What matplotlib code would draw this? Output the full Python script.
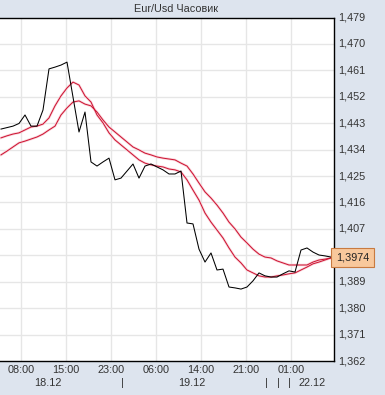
import matplotlib
matplotlib.use("Agg")
import matplotlib.pyplot as plt
import numpy as np

# ---- data (hourly bars) ----
price = [1.4410, 1.4415, 1.4420, 1.4429, 1.4458, 1.4420, 1.4420, 1.4475, 1.4615, 1.4621,
         1.4628, 1.4638, 1.4519, 1.4400, 1.4468, 1.4298, 1.4284, 1.4298, 1.4311, 1.4237,
         1.4243, 1.4267, 1.4291, 1.4243, 1.4284, 1.4291, 1.4281, 1.4271, 1.4257, 1.4257,
         1.4267, 1.4090, 1.4087, 1.4001, 1.3957, 1.3988, 1.3930, 1.3933, 1.3872, 1.3869,
         1.3865, 1.3872, 1.3893, 1.3920, 1.3910, 1.3906, 1.3906, 1.3917, 1.3927, 1.3923,
         1.3998, 1.4005, 1.3991, 1.3981, 1.3978, 1.3974]
ma_fast = [1.4380, 1.4387, 1.4393, 1.4397, 1.4407, 1.4417, 1.4420, 1.4427, 1.4448, 1.4489,
           1.4523, 1.4550, 1.4570, 1.4560, 1.4523, 1.4502, 1.4458, 1.4431, 1.4397, 1.4373,
           1.4356, 1.4339, 1.4322, 1.4305, 1.4294, 1.4288, 1.4284, 1.4281, 1.4274, 1.4271,
           1.4264, 1.4237, 1.4202, 1.4168, 1.4124, 1.4093, 1.4066, 1.4039, 1.4005, 1.3974,
           1.3954, 1.3930, 1.3920, 1.3910, 1.3906, 1.3906, 1.3910, 1.3913, 1.3917, 1.3920,
           1.3930, 1.3940, 1.3951, 1.3957, 1.3964, 1.3971]
ma_slow = [1.4322, 1.4335, 1.4349, 1.4363, 1.4369, 1.4376, 1.4383, 1.4393, 1.4407, 1.4420,
           1.4458, 1.4482, 1.4502, 1.4506, 1.4495, 1.4489, 1.4468, 1.4441, 1.4417, 1.4400,
           1.4383, 1.4366, 1.4349, 1.4339, 1.4328, 1.4322, 1.4315, 1.4311, 1.4308, 1.4305,
           1.4294, 1.4284, 1.4257, 1.4226, 1.4196, 1.4175, 1.4151, 1.4124, 1.4093, 1.4070,
           1.4042, 1.4022, 1.4001, 1.3984, 1.3974, 1.3971, 1.3961, 1.3954, 1.3947, 1.3947,
           1.3947, 1.3947, 1.3957, 1.3964, 1.3967, 1.3971]
y_ticks = [1.362, 1.371, 1.380, 1.389, 1.398, 1.407, 1.416, 1.425, 1.434,
           1.443, 1.452, 1.461, 1.470, 1.479]
time_labels = ["08:00", "15:00", "23:00", "06:00", "14:00", "21:00", "01:00"]
time_pos = [3.33, 10.83, 18.33, 25.83, 33.33, 40.83, 48.33]
date_labels = ["18.12", "|", "19.12", "|", "|", "|", "22.12"]
date_pos = [7.83, 20.17, 31.83, 44.17, 46.17, 48.0, 51.83]
last_price = 1.3974
title = "Eur/Usd Часовик"

BG = "#dde4ee"
plt.rcParams['font.family'] = ['Liberation Sans', 'DejaVu Sans']

fig = plt.figure(figsize=(3.85, 3.95), dpi=100, facecolor=BG)
ax = fig.add_axes([0.0, 1 - 361 / 395, 334 / 385, (361 - 17.5) / 395])
ax.set_facecolor("white")

x = np.arange(len(price))
ax.set_xlim(-1 / 6, 333 / 6)
ax.set_ylim(y_ticks[0], y_ticks[-1])

# grid
for yt in y_ticks[1:-1]:
    ax.axhline(yt, color="#e6e6e6", lw=1.0, zorder=0)
for xt in time_pos:
    ax.axvline(xt, color="#e6e6e6", lw=1.0, zorder=0)

# moving averages with soft halo
for ma in (ma_slow, ma_fast):
    ax.plot(x, ma, color="#f9d2d8", lw=1.8, zorder=2, solid_joinstyle="round")
    ax.plot(x, ma, color="#cc1030", lw=0.7, zorder=3)
ax.plot(x, price, color="black", lw=0.75, zorder=4)

for s in ["top", "right", "bottom"]:
    ax.spines[s].set_color("black")
    ax.spines[s].set_linewidth(1.0)
ax.spines["left"].set_visible(False)

ax.set_xticks([])
ax.set_yticks([])

yr = y_ticks[-1] - y_ticks[0]
# y labels on right (the one under the price tag is hidden by it)
for yt in y_ticks:
    if abs(yt - last_price) < 0.004:
        continue
    ax.text(1.012, (yt - y_ticks[0]) / yr,
            f"{yt:.3f}".replace(".", ","), transform=ax.transAxes,
            ha="left", va="center", fontsize=7.8, color="#333333")

# current price tag
ax.text(1.006, (last_price - y_ticks[0]) / yr,
        f"{last_price:.4f}".replace(".", ","), transform=ax.transAxes,
        ha="left", va="center", fontsize=7.8, color="#222222", zorder=10,
        bbox=dict(boxstyle="square,pad=0.42", fc="#f8c89c", ec="#c87a40", lw=0.8))

# x labels
for lab, p in zip(time_labels, time_pos):
    ax.text(p, -0.026, lab, transform=ax.get_xaxis_transform(), ha="center",
            va="center", fontsize=7.8, color="#333333")
for lab, p in zip(date_labels, date_pos):
    ax.text(p, -0.064, lab, transform=ax.get_xaxis_transform(), ha="center",
            va="center", fontsize=7.8, color="#333333")

fig.text(176 / 385, 1 - 9 / 395, title, ha="center", va="center",
         fontsize=7.8, color="#333333")

fig.savefig("out.png", dpi=100, facecolor=BG)
